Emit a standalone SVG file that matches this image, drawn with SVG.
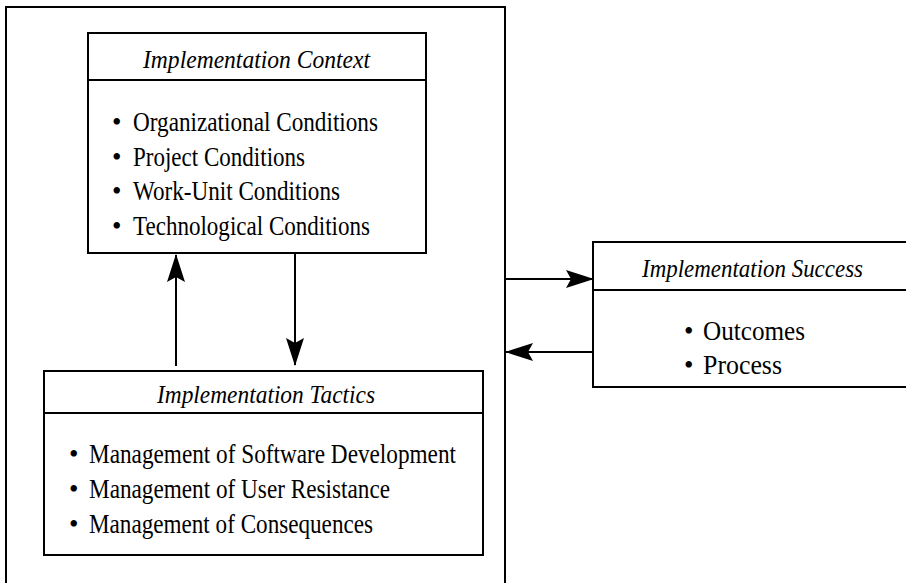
<svg xmlns="http://www.w3.org/2000/svg" width="906" height="583" viewBox="0 0 906 583">
<defs>
<style>
.box{fill:none;stroke:#000;stroke-width:2}
.ln{stroke:#000;stroke-width:2;fill:none}
.hd{font-family:"Liberation Serif","Times New Roman",serif;font-style:italic;font-size:26px;fill:#000}
.it{font-family:"Liberation Serif","Times New Roman",serif;font-size:27px;fill:#000}
</style>
<marker id="ahv" markerWidth="28" markerHeight="20" refX="27" refY="10" orient="auto" markerUnits="userSpaceOnUse" viewBox="0 0 28 20">
<path d="M0,1 L28,10 L0,19 L5,10 Z" fill="#000"/>
</marker>
</defs>
<rect width="906" height="583" fill="#fff"/>
<g id="outer">
<path class="box" d="M6,600 L6,7 L505,7 L505,600"/>
</g>
<g id="context">
<rect class="box" x="88" y="33" width="338" height="220"/>
<line class="ln" x1="88" y1="80" x2="426" y2="80"/>
<text class="hd" x="143" y="68" textLength="227" lengthAdjust="spacingAndGlyphs">Implementation Context</text>
<text class="it" x="112" y="131">•</text><text class="it" x="133" y="131" textLength="245" lengthAdjust="spacingAndGlyphs">Organizational Conditions</text>
<text class="it" x="112" y="166">•</text><text class="it" x="133" y="166" textLength="172" lengthAdjust="spacingAndGlyphs">Project Conditions</text>
<text class="it" x="112" y="200">•</text><text class="it" x="133" y="200" textLength="207" lengthAdjust="spacingAndGlyphs">Work-Unit Conditions</text>
<text class="it" x="112" y="235">•</text><text class="it" x="133" y="235" textLength="237" lengthAdjust="spacingAndGlyphs">Technological Conditions</text>
</g>
<g id="tactics">
<rect class="box" x="44" y="371" width="439" height="184"/>
<line class="ln" x1="44" y1="413" x2="483" y2="413"/>
<text class="hd" x="157" y="403" textLength="218" lengthAdjust="spacingAndGlyphs">Implementation Tactics</text>
<text class="it" x="69" y="463">•</text><text class="it" x="89" y="463" textLength="367" lengthAdjust="spacingAndGlyphs">Management of Software Development</text>
<text class="it" x="69" y="498">•</text><text class="it" x="89" y="498" textLength="301" lengthAdjust="spacingAndGlyphs">Management of User Resistance</text>
<text class="it" x="69" y="533">•</text><text class="it" x="89" y="533" textLength="284" lengthAdjust="spacingAndGlyphs">Management of Consequences</text>
</g>
<g id="success">
<path class="box" d="M912,242 L593,242 L593,387 L912,387"/>
<line class="ln" x1="593" y1="290" x2="912" y2="290"/>
<text class="hd" x="642" y="277" textLength="221" lengthAdjust="spacingAndGlyphs">Implementation Success</text>
<text class="it" x="684" y="340">•</text><text class="it" x="703" y="340" textLength="102" lengthAdjust="spacingAndGlyphs">Outcomes</text>
<text class="it" x="684" y="374">•</text><text class="it" x="703" y="374" textLength="79" lengthAdjust="spacingAndGlyphs">Process</text>
</g>
<g id="connectors">
<line class="ln" x1="176" y1="366" x2="176" y2="255" marker-end="url(#ahv)"/>
<line class="ln" x1="295" y1="254" x2="295" y2="365" marker-end="url(#ahv)"/>
<line class="ln" x1="505" y1="279" x2="593" y2="279" marker-end="url(#ahv)"/>
<line class="ln" x1="593" y1="352" x2="506" y2="352" marker-end="url(#ahv)"/>
</g>
</svg>
